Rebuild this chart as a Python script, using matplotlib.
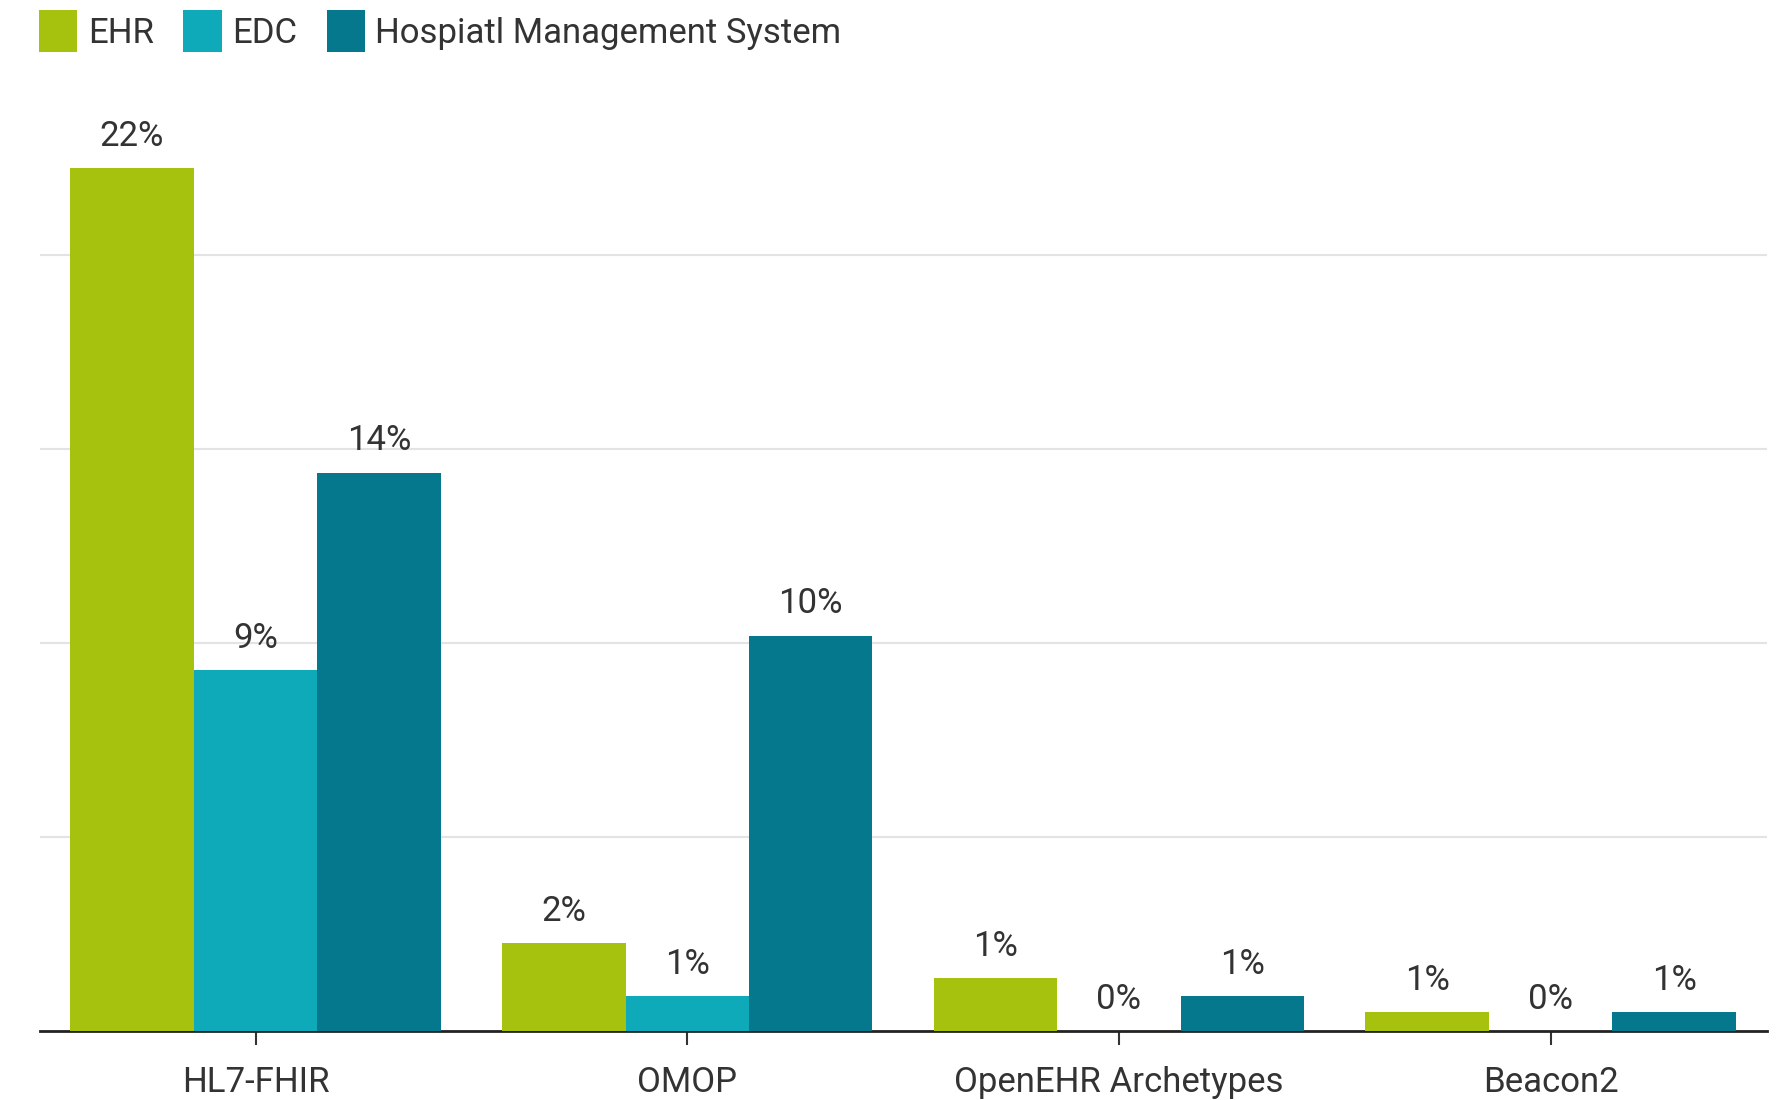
import matplotlib
matplotlib.use("Agg")
import matplotlib.pyplot as plt
from matplotlib.patches import Patch
import numpy as np

plt.rcParams['font.family'] = ['Roboto', 'DejaVu Sans']

categories = ["HL7-FHIR", "OMOP", "OpenEHR Archetypes", "Beacon2"]
series_names = ["EHR", "EDC", "Hospiatl Management System"]
ehr = [22.25, 2.28, 1.37, 0.5]
edc = [9.3, 0.9, 0.0, 0.0]
hms = [14.4, 10.2, 0.9, 0.5]
ehr_labels = ["22%", "2%", "1%", "1%"]
edc_labels = ["9%", "1%", "0%", "0%"]
hms_labels = ["14%", "10%", "1%", "1%"]
colors = ["#A6C20E", "#0EAAB9", "#05788D"]

fig = plt.figure(figsize=(17.79, 11.0), dpi=100)
ax = fig.add_axes([0.0223, 0.0624, 0.9707, 0.882])

x = np.arange(len(categories))
w = 0.286
series = [ehr, edc, hms]
labels = [ehr_labels, edc_labels, hms_labels]
for i, (vals, labs, c) in enumerate(zip(series, labels, colors)):
    pos = x + (i - 1) * w
    ax.bar(pos, vals, width=w, color=c, zorder=3)
    for p, v, t in zip(pos, vals, labs):
        ax.annotate(t, (p, v), xytext=(0, 11), textcoords="offset points",
                    ha="center", va="bottom", fontsize=25, color="#333333")

ax.set_xlim(-0.5, 3.5)
ax.set_ylim(0, 25)
ax.set_yticks([5, 10, 15, 20])
ax.yaxis.grid(True, color="#e3e3e3", linewidth=1.5, zorder=0)
ax.tick_params(axis="y", left=False, labelleft=False)
ax.set_xticks(x)
ax.set_xticklabels(categories, fontsize=25, color="#333333")
ax.tick_params(axis="x", length=10, width=1.5, color="#333333", pad=15)
for s in ["top", "right", "left"]:
    ax.spines[s].set_visible(False)
ax.spines["bottom"].set_color("#222222")
ax.spines["bottom"].set_linewidth(2)
ax.set_axisbelow(True)

handles = [Patch(facecolor=c, edgecolor="none") for c in colors]
fig.legend(handles, series_names, loc="upper left", bbox_to_anchor=(0.0162, 1.0),
           ncol=3, frameon=False, fontsize=25, handlelength=1.1, handleheight=1.45,
           handletextpad=0.3, columnspacing=0.85, labelcolor="#333333",
           borderaxespad=0.0, borderpad=0.3)

fig.savefig("out.png", dpi=100, facecolor="white")
